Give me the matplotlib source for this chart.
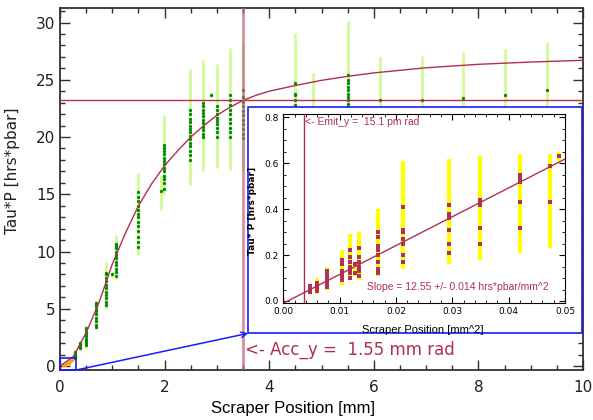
import numpy as np
import matplotlib.pyplot as plt
from matplotlib.patches import Rectangle
from matplotlib.ticker import MultipleLocator

# main plot: cluster positions [mm], measured Tau*P values, error bar ranges
main_x = [0.29, 0.38, 0.50, 0.68, 0.88, 0.99, 1.08, 1.49, 1.93, 1.99, 2.49, 2.74, 2.89,
          3.00, 3.25, 3.50, 4.49, 4.83, 5.51, 6.12, 6.92, 7.70, 8.51, 9.31]
main_y = [
    [0.7, 0.8, 0.9, 1.0, 1.1, 1.2],
    [1.6, 1.7, 1.8, 1.9, 2.0],
    [1.8, 2.0, 2.2, 2.4, 2.6, 2.8, 3.0, 3.2, 3.3],
    [3.4, 3.6, 3.9, 4.2, 4.5, 4.8, 5.0, 5.2, 5.4, 5.5],
    [5.3, 5.6, 5.9, 6.2, 6.5, 6.8, 7.1, 7.4, 7.7, 8.0, 8.1],
    [8.0],
    [7.9, 8.2, 8.5, 8.8, 9.1, 9.4, 9.7, 10.0, 10.3, 10.5, 10.7],
    [10.4, 10.8, 11.3, 11.8, 12.2, 12.6, 13.0, 13.3, 13.6, 14.0, 14.4, 14.8, 15.2],
    [15.3],
    [15.5, 16.0, 16.3, 16.6, 17.0, 17.3, 17.6, 17.9, 18.2, 18.5, 18.8, 19.0, 19.3],
    [18.0, 18.4, 18.8, 19.2, 19.5, 19.8, 20.1, 20.4, 20.7, 21.0, 21.3, 21.6, 22.0, 22.4],
    [20.0, 20.3, 20.6, 20.9, 21.2, 21.5, 21.8, 22.1, 22.4, 22.7, 23.0],
    [23.7],
    [20.0, 20.4, 20.8, 21.1, 21.4, 21.7, 22.0, 22.4, 22.7],
    [20.0, 20.4, 20.8, 21.2, 21.6, 22.0, 22.4, 22.8, 23.2, 23.7],
    [19.9, 20.3, 20.7, 21.1, 21.5, 21.9, 22.3, 22.7, 23.1, 23.5, 24.1],
    [22.8, 23.2, 23.7, 23.8, 24.7],
    [22.0],
    [22.6, 22.9, 23.2, 23.5, 23.8, 24.1, 24.4, 24.7, 25.0, 25.4],
    [23.2], [23.2], [23.4], [23.7], [24.1],
]
main_lo = [0.5, 1.4, 1.6, 3.2, 5.0, 7.7, 7.5, 9.7, 13.6, 14.9, 15.8, 17.0, 23.5,
           17.3, 17.1, 17.0, 20.5, 18.4, 19.0, 19.4, 19.3, 19.4, 19.7, 19.9]
main_hi = [1.4, 2.2, 3.5, 5.8, 9.1, 8.3, 11.4, 16.9, 16.7, 21.9, 25.9, 26.7, 23.9,
           26.4, 27.8, 28.2, 29.1, 25.6, 30.1, 27.0, 27.1, 27.4, 27.7, 28.3]

# fitted saturation curve
fit_x = [0, 0.25, 0.5, 0.75, 1.0, 1.25, 1.5, 1.75, 2.0, 2.25, 2.5, 2.75, 3.0, 3.25,
         3.5, 3.75, 4.0, 4.5, 5.0, 5.5, 6.0, 7.0, 8.0, 9.0, 10.0]
fit_y = [0, 0.8, 2.9, 5.6, 8.9, 11.6, 14.0, 15.9, 17.5, 18.8, 20.0, 21.0, 21.9, 22.6,
         23.2, 23.65, 24.0, 24.5, 24.95, 25.3, 25.6, 26.05, 26.35, 26.55, 26.7]

# few points near origin (the zoomed region)
small_x = [0.06, 0.09, 0.11, 0.14, 0.17, 0.2, 0.23]
small_y = [0.05, 0.1, 0.15, 0.25, 0.3, 0.45, 0.55]

acc_x = 3.5
acc_y = 23.2

# inset: scraper position [mm^2] vs Tau*P
in_x = [0.0047, 0.0059, 0.0077, 0.0104, 0.0118, 0.0127, 0.0134, 0.0169, 0.0212,
        0.0295, 0.0350, 0.0421, 0.0473, 0.0490]
in_y = [
    [0.04, 0.05, 0.055, 0.06, 0.065],
    [0.045, 0.055, 0.065, 0.075, 0.08],
    [0.06, 0.08, 0.09, 0.1, 0.11, 0.12, 0.13],
    [0.09, 0.11, 0.12, 0.13, 0.16, 0.18],
    [0.1, 0.12, 0.14, 0.15, 0.17, 0.19, 0.22],
    [0.12, 0.16],
    [0.11, 0.13, 0.15, 0.17, 0.19, 0.23],
    [0.12, 0.14, 0.17, 0.2, 0.22, 0.24, 0.28, 0.3],
    [0.17, 0.2, 0.25, 0.27, 0.3, 0.31, 0.41],
    [0.21, 0.25, 0.31, 0.36, 0.38, 0.42],
    [0.25, 0.32, 0.42, 0.43, 0.44],
    [0.32, 0.43, 0.52, 0.53, 0.55],
    [0.43, 0.59],
    [0.63],
]
in_lo = [0.03, 0.03, 0.05, 0.07, 0.09, 0.11, 0.09, 0.11, 0.14, 0.16, 0.18, 0.21, 0.23, 0.61]
in_hi = [0.075, 0.1, 0.15, 0.22, 0.29, 0.17, 0.3, 0.4, 0.61, 0.62, 0.63, 0.64, 0.64, 0.65]
in_fit_x = [0.0, 0.05]
in_fit_y = [-0.010, 0.618]
emit_x = 0.0037

crimson = '#b0304c'
blue = '#1a1aff'

fig = plt.figure(figsize=(5.93, 4.2), dpi=100)
ax = fig.add_axes([0.1012, 0.119, 0.882, 0.862])

ax.vlines(main_x, main_lo, main_hi, color='#d4fa98', lw=2, zorder=1)
for x, ys in zip(main_x, main_y):
    ax.plot([x] * len(ys), ys, 'o', color='#008a00', ms=2.4, mew=0, zorder=2)
ax.plot(small_x, small_y, 'o', color='#ffa000', ms=2.5, mew=0, zorder=2)
ax.plot(fit_x, fit_y, '-', color=crimson, lw=1, zorder=3)
ax.axhline(acc_y, color=crimson, lw=1, zorder=3)
ax.axvline(acc_x, color='#c8607a', lw=2, alpha=0.7, zorder=3)

ax.set_xlim(0, 10)
ax.set_ylim(-0.35, 31.27)
ax.xaxis.set_major_locator(MultipleLocator(2))
ax.xaxis.set_minor_locator(MultipleLocator(0.5))
ax.yaxis.set_major_locator(MultipleLocator(5))
ax.yaxis.set_minor_locator(MultipleLocator(1))
ax.tick_params(which='both', direction='in', top=True, right=True, color='#303030',
               labelsize=11, labelcolor='#202020')
ax.tick_params(which='major', length=7, width=1)
ax.tick_params(which='minor', length=3.5, width=1)
ax.tick_params(axis='x', pad=7)
for s in ax.spines.values():
    s.set_color('#303030')
    s.set_linewidth(1.3)

ax.set_xlabel('Scraper Position [mm]', family='Liberation Sans', fontsize=12)
ax.xaxis.set_label_coords(0.445, -0.085)
ax.set_ylabel('Tau*P [hrs*pbar]', fontsize=11, color='#202020')
ax.yaxis.set_label_coords(-0.077, 0.55)

ax.text(3.53, 1.4, '<- Acc_y =  1.55 mm rad', color=crimson, fontsize=12, va='center')

# zoom box and link to the inset
ax.add_patch(Rectangle((0, -0.35), 0.31, 1.07, fill=False, ec=blue, lw=1.2, zorder=4,
                       clip_on=False))
ax.add_patch(Rectangle((3.6, 2.86), 6.38, 19.74, fc='white', ec=blue, lw=1.2, zorder=5))
ax.annotate('', xy=(3.6, 2.86), xytext=(0.31, -0.35),
            arrowprops=dict(arrowstyle='->', color=blue, lw=1.1, shrinkA=0, shrinkB=0),
            zorder=6, annotation_clip=False)

ins = fig.add_axes([0.4777, 0.2779, 0.475, 0.4507], zorder=10)
ins.vlines(in_x, in_lo, in_hi, color='#ffff00', lw=3, zorder=1)
for x, ys in zip(in_x, in_y):
    ins.plot([x] * len(ys), ys, 's', color='#b0305a', ms=3, mew=0, zorder=2)
ins.plot(in_fit_x, in_fit_y, '-', color=crimson, lw=1, zorder=3)
ins.axvline(emit_x, color=crimson, lw=1, zorder=3)
ins.text(0.0039, 0.778, '<- Emit_y =  15.1 pm rad', color=crimson, fontsize=7.5,
         va='center', family='Liberation Sans')
ins.text(0.0148, 0.062, 'Slope = 12.55 +/- 0.014 hrs*pbar/mm^2', color=crimson,
         fontsize=7.5, va='center', family='Liberation Sans')
ins.set_xlim(0, 0.05)
ins.set_ylim(-0.01, 0.8144)
ins.xaxis.set_major_locator(MultipleLocator(0.01))
ins.xaxis.set_minor_locator(MultipleLocator(0.002))
ins.yaxis.set_major_locator(MultipleLocator(0.2))
ins.yaxis.set_minor_locator(MultipleLocator(0.05))
ins.xaxis.set_major_formatter(plt.FormatStrFormatter('%.2f'))
ins.yaxis.set_major_formatter(plt.FormatStrFormatter('%.1f'))
ins.tick_params(which='both', direction='in', top=True, right=True, labelsize=6.5, pad=3)
ins.tick_params(which='major', length=4)
ins.tick_params(which='minor', length=2)
ins.set_xlabel('Scraper Position [mm^2]', family='Liberation Sans', fontsize=8)
ins.xaxis.set_label_coords(0.496, -0.115)
ins.set_ylabel('Tau* P [hrs*pbar]', fontsize=6.5, fontweight='bold')
ins.yaxis.set_label_coords(-0.095, 0.49)

fig.savefig('out.png', dpi=100)
